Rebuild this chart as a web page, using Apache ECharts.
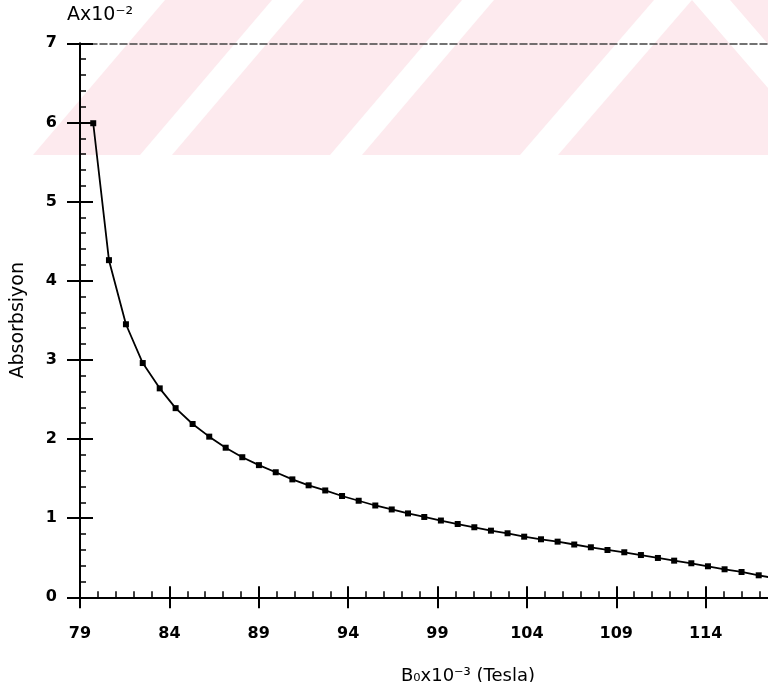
<!DOCTYPE html>
<html>
<head>
<meta charset="utf-8">
<script src="https://cdn.jsdelivr.net/npm/echarts@6/dist/echarts.min.js"></script>
<style>
html,body{margin:0;padding:0;background:#fff;}
#chart{width:768px;height:682px;}
</style>
</head>
<body>
<div id="chart"></div>
<script>
// Magnetic field B0 x10^-3 (Tesla)
const fieldValues = [79.74, 80.62, 81.57, 82.51, 83.46, 84.35, 85.30, 86.23, 87.15, 88.08,
  89.01, 89.95, 90.88, 91.79, 92.72, 93.66, 94.59, 95.52, 96.44, 97.35,
  98.26, 99.19, 100.13, 101.06, 101.99, 102.92, 103.85, 104.79, 105.72, 106.65,
  107.58, 108.51, 109.45, 110.38, 111.33, 112.24, 113.20, 114.13, 115.06, 116.01,
  116.97, 117.88];
// Absorption A x10^-2
const absorptionValues = [5.99, 4.26, 3.45, 2.96, 2.64, 2.39, 2.19, 2.03, 1.89, 1.77,
  1.67, 1.58, 1.49, 1.415, 1.35, 1.28, 1.22, 1.16, 1.11, 1.06,
  1.015, 0.97, 0.926, 0.885, 0.842, 0.809, 0.766, 0.733, 0.703, 0.667,
  0.632, 0.598, 0.569, 0.534, 0.497, 0.463, 0.430, 0.392, 0.354, 0.320,
  0.278, 0.24];
const xTickLabels = ['79', '84', '89', '94', '99', '104', '109', '114'];
const yTickLabels = ['0', '1', '2', '3', '4', '5', '6', '7'];

const seriesData = fieldValues.map((x, i) => [x, absorptionValues[i]]);

const chart = echarts.init(document.getElementById('chart'), null, {renderer: 'canvas'});
const FONT = 'DejaVu Sans';
const pink = '#fdeaee';

chart.setOption({
  animation: false,
  backgroundColor: '#ffffff',
  grid: {left: 80, top: 43.3, right: -27, bottom: 84.7, containLabel: false, outerBoundsMode: 'none'},
  graphic: {
    elements: [
      {type: 'polygon', z: -100, silent: true, shape: {points: [[33,155],[165,0],[768,0],[768,155]]}, style: {fill: pink}},
      {type: 'polygon', z: -99, silent: true, shape: {points: [[140,155],[172,155],[304,0],[272,0]]}, style: {fill: '#ffffff'}},
      {type: 'polygon', z: -99, silent: true, shape: {points: [[330,155],[362,155],[494,0],[462,0]]}, style: {fill: '#ffffff'}},
      {type: 'polygon', z: -99, silent: true, shape: {points: [[520,155],[558,155],[692,0],[654,0]]}, style: {fill: '#ffffff'}},
      {type: 'polygon', z: -99, silent: true, shape: {points: [[692,0],[730,0],[864,155],[826,155]]}, style: {fill: '#ffffff'}},
      {type: 'text', left: 67, top: 6, z: 10, style: {text: 'Ax10\u207B\u00B2', font: '19px "DejaVu Sans"', fill: '#000'}},
      {type: 'text', left: 401, top: 667, z: 10, style: {text: 'B\u2080x10\u207B\u00B3 (Tesla)', font: '18px "DejaVu Sans"', fill: '#000', textAlign: 'center', textVerticalAlign: 'middle'}}
    ]
  },
  xAxis: [
    {
      type: 'value', position: 'bottom', min: 79, max: 119, interval: 5,
      axisLine: {show: true, onZero: false, lineStyle: {color: '#000', width: 2}},
      axisTick: {show: true, inside: false, length: 11, lineStyle: {color: '#000', width: 2}},
      minorTick: {show: false},
      splitLine: {show: false},
      axisLabel: {show: true, margin: 29, fontFamily: FONT, fontSize: 16, fontWeight: 'bold', color: '#000',
        formatter: v => { const s = String(Math.round(v)); return xTickLabels.includes(s) && Math.abs(v - Math.round(v)) < 1e-6 ? s : ''; }}
    },
    {
      type: 'value', position: 'bottom', min: 79, max: 119, interval: 5,
      axisLine: {show: false},
      axisTick: {show: true, inside: true, length: 11, lineStyle: {color: '#000', width: 2}},
      minorTick: {show: true, splitNumber: 5, length: 6, lineStyle: {color: '#000', width: 1.5}},
      splitLine: {show: false},
      axisLabel: {show: false}
    },
    {
      type: 'value', position: 'top', min: 79, max: 119,
      axisLine: {show: true, onZero: false, lineStyle: {color: '#444', width: 1.5, type: [7, 3]}},
      axisTick: {show: false}, axisLabel: {show: false}, splitLine: {show: false}
    }
  ],
  yAxis: [
    {
      type: 'value', position: 'left', min: 0, max: 7, interval: 1,
      name: 'Absorbsiyon', nameLocation: 'middle', nameGap: 52, nameRotate: 90,
      nameTextStyle: {fontFamily: FONT, fontSize: 19, color: '#000'},
      axisLine: {show: true, onZero: false, lineStyle: {color: '#000', width: 2}},
      axisTick: {show: true, inside: false, length: 13, lineStyle: {color: '#000', width: 2}},
      minorTick: {show: false},
      splitLine: {show: false},
      axisLabel: {show: true, margin: 23, fontFamily: FONT, fontSize: 16, fontWeight: 'bold', color: '#000',
        formatter: v => yTickLabels[Math.round(v)] || ''}
    },
    {
      type: 'value', position: 'left', min: 0, max: 7, interval: 1,
      axisLine: {show: false},
      axisTick: {show: true, inside: true, length: 13, lineStyle: {color: '#000', width: 2}},
      minorTick: {show: true, splitNumber: 5, length: 6, lineStyle: {color: '#000', width: 1.5}},
      splitLine: {show: false},
      axisLabel: {show: false}
    }
  ],
  series: [{
    type: 'line',
    xAxisIndex: 0, yAxisIndex: 0,
    data: seriesData,
    symbol: 'rect', symbolSize: 6,
    showAllSymbol: true,
    clip: true,
    lineStyle: {color: '#000', width: 1.8},
    itemStyle: {color: '#000'},
    z: 5
  }]
});
</script>
</body>
</html>
